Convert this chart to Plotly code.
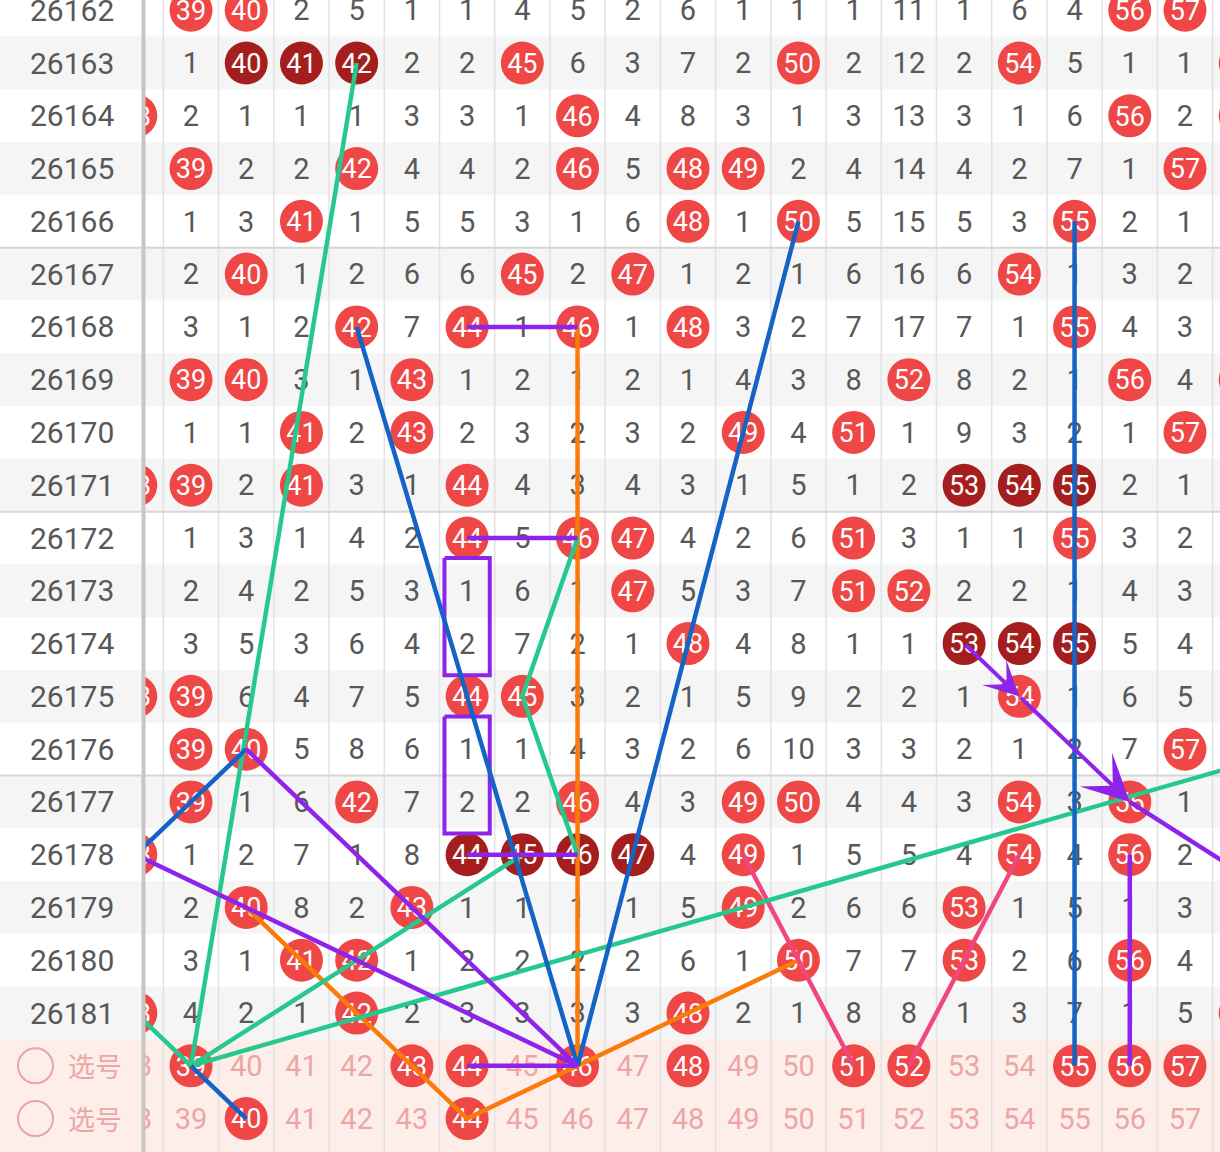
import plotly.graph_objects as go

# ---------------- data ----------------
periods = list(range(26162, 26182))
numbers = list(range(38, 59))          # columns 38..58 (38 and 58 are cut by the view)
# omission counts per period for numbers 38..58; 0 = number drawn (ball)
omission = [
    [3, 0, 0, 2, 5, 1, 1, 4, 5, 2, 6, 1, 1, 1, 11, 1, 6, 4, 0, 0, 5],
    [4, 1, 0, 0, 0, 2, 2, 0, 6, 3, 7, 2, 0, 2, 12, 2, 0, 5, 1, 1, 0],
    [0, 2, 1, 1, 1, 3, 3, 1, 0, 4, 8, 3, 1, 3, 13, 3, 1, 6, 0, 2, 0],
    [1, 0, 2, 2, 0, 4, 4, 2, 0, 5, 0, 0, 2, 4, 14, 4, 2, 7, 1, 0, 1],
    [2, 1, 3, 0, 1, 5, 5, 3, 1, 6, 0, 1, 0, 5, 15, 5, 3, 0, 2, 1, 2],
    [3, 2, 0, 1, 2, 6, 6, 0, 2, 0, 1, 2, 1, 6, 16, 6, 0, 1, 3, 2, 3],
    [4, 3, 1, 2, 0, 7, 0, 1, 0, 1, 0, 3, 2, 7, 17, 7, 1, 0, 4, 3, 4],
    [5, 0, 0, 3, 1, 0, 1, 2, 1, 2, 1, 4, 3, 8, 0, 8, 2, 1, 0, 4, 0],
    [6, 1, 1, 0, 2, 0, 2, 3, 2, 3, 2, 0, 4, 0, 1, 9, 3, 2, 1, 0, 1],
    [0, 0, 2, 0, 3, 1, 0, 4, 3, 4, 3, 1, 5, 1, 2, 0, 0, 0, 2, 1, 2],
    [1, 1, 3, 1, 4, 2, 0, 5, 0, 0, 4, 2, 6, 0, 3, 1, 1, 0, 3, 2, 3],
    [2, 2, 4, 2, 5, 3, 1, 6, 1, 0, 5, 3, 7, 0, 0, 2, 2, 1, 4, 3, 4],
    [3, 3, 5, 3, 6, 4, 2, 7, 2, 1, 0, 4, 8, 1, 1, 0, 0, 0, 5, 4, 5],
    [0, 0, 6, 4, 7, 5, 0, 0, 3, 2, 1, 5, 9, 2, 2, 1, 0, 1, 6, 5, 6],
    [1, 0, 0, 5, 8, 6, 1, 1, 4, 3, 2, 6, 10, 3, 3, 2, 1, 2, 7, 0, 7],
    [2, 0, 1, 6, 0, 7, 2, 2, 0, 4, 3, 0, 0, 4, 4, 3, 0, 3, 0, 1, 8],
    [0, 1, 2, 7, 1, 8, 0, 0, 0, 0, 4, 0, 1, 5, 5, 4, 0, 4, 0, 2, 9],
    [1, 2, 0, 8, 2, 0, 1, 1, 1, 1, 5, 0, 2, 6, 6, 0, 1, 5, 1, 3, 10],
    [2, 3, 1, 0, 0, 1, 2, 2, 2, 2, 6, 1, 0, 7, 7, 0, 2, 6, 0, 4, 11],
    [0, 4, 2, 1, 0, 2, 3, 3, 3, 3, 0, 2, 1, 8, 8, 1, 3, 7, 1, 5, 0],
]
select_rows = ["S1", "S2"]
select_label = "选号"
select_picks = [
    [39, 43, 44, 46, 48, 51, 52, 55, 56, 57],
    [40, 44],
]

# hand-drawn analysis lines: (number, period or selection row)
green_lines = [
    [(42, 26163), (39, "S1")],
    [(46, 26172), (45, 26175), (46, 26178)],
    [(45, 26178), (39, "S1")],
    [(38, 26181), (39, "S1")],
    [(39, "S1"), (59, 26176)],
]
blue_lines = [
    [(42, 26168), (46, "S1")],
    [(50, 26166), (46, "S1")],
    [(55, 26166), (55, "S1")],
    [(40, 26176), (38, 26178)],
    [(39, "S1"), (40, "S2")],
]
orange_lines = [
    [(46, 26168), (46, "S1")],
    [(40, 26179), (44, "S2"), (46, "S1"), (50, 26180)],
]
purple_lines = [
    [(44, 26168), (46, 26168)],
    [(44, 26172), (46, 26172)],
    [(44, 26178), (46, 26178)],
    [(44, "S1"), (46, "S1")],
    [(40, 26176), (46, "S1")],
    [(38, 26178), (46, "S1")],
    [(56, 26178), (56, "S1")],
    [(56, 26177), (59, 26179)],
]
purple_arrows = [
    [(53, 26174), (54, 26175)],
    [(54, 26175), (56, 26177)],
]
pink_lines = [
    [(49, 26178), (51, "S1")],
    [(52, "S1"), (54, 26178)],
]
purple_boxes = [(44, 26173, 26174), (44, 26176, 26177)]

# ---------------- style ----------------
W, H = 1220, 1152
COL0_PX, COL_W = 191.0, 55.222      # pixel centre of number 39, column width
ROW1_PX, ROW_H = 63.0, 52.78        # pixel centre of row index 1, row height
X_MIN = 39 - COL0_PX / COL_W
X_MAX = X_MIN + W / COL_W
Y_TOP = 1 - ROW1_PX / ROW_H
Y_BOT = Y_TOP + H / ROW_H
LABEL_W = 141.5
TEXT_DY = 3.0 / ROW_H                # nudge scatter text down to the cell centre

RED, DARK = "#ef4646", "#a51e1e"
TXT = "#585858"
PINK_BG, PINK_TXT = "#fdeeea", "#eda6a6"
GRAY_BG = "#f5f5f5"
FONT = "Roboto"


def row_of(key):
    if key in select_rows:
        return len(periods) + select_rows.index(key)
    return periods.index(key)


fig = go.Figure()

# ---- cells ----
ball_x, ball_y, ball_t = [], [], []
dark_x, dark_y, dark_t = [], [], []
num_x, num_y, num_t = [], [], []
for r, row in enumerate(omission):
    drawn = {numbers[i] for i, v in enumerate(row) if v == 0}
    for i, v in enumerate(row):
        n = numbers[i]
        if v == 0:
            lo = n
            while lo - 1 in drawn:
                lo -= 1
            hi = n
            while hi + 1 in drawn:
                hi += 1
            if hi - lo + 1 >= 3:
                dark_x.append(n); dark_y.append(r); dark_t.append(str(n))
            else:
                ball_x.append(n); ball_y.append(r); ball_t.append(str(n))
        else:
            num_x.append(n); num_y.append(r); num_t.append(str(v))

sel_x, sel_y, sel_t = [], [], []
for k, picks in enumerate(select_picks):
    r = len(periods) + k
    for n in numbers:
        if n in picks:
            ball_x.append(n); ball_y.append(r); ball_t.append(str(n))
        else:
            sel_x.append(n); sel_y.append(r); sel_t.append(str(n))


def shifted(ys):
    return [y + TEXT_DY for y in ys]


fig.add_trace(go.Scatter(x=num_x, y=shifted(num_y), text=num_t, mode="text",
                         textfont=dict(family=FONT, size=29, color=TXT),
                         hoverinfo="skip"))
fig.add_trace(go.Scatter(x=sel_x, y=shifted(sel_y), text=sel_t, mode="text",
                         textfont=dict(family=FONT, size=29, color=PINK_TXT),
                         hoverinfo="skip"))
for xs, ys, ts, col in [(ball_x, ball_y, ball_t, RED), (dark_x, dark_y, dark_t, DARK)]:
    fig.add_trace(go.Scatter(x=xs, y=ys, mode="markers",
                             marker=dict(size=43, color=col, line=dict(width=0)),
                             hoverinfo="skip"))
    fig.add_trace(go.Scatter(x=xs, y=shifted(ys), text=ts, mode="text",
                             textfont=dict(family=FONT, size=27, color="white"),
                             textposition="middle center", hoverinfo="skip"))

# ---- boxes ----
bx, by = [], []
for n, p0, p1 in purple_boxes:
    x0, x1 = n - 0.41, n + 0.41
    y0, y1 = row_of(p0) - 0.62, row_of(p1) + 0.6
    bx += [x0, x1, x1, x0, x0, None]
    by += [y0, y0, y1, y1, y0, None]
fig.add_trace(go.Scatter(x=bx, y=by, mode="lines",
                         line=dict(color="#8e24ea", width=4), hoverinfo="skip"))


def add_lines(paths, color, width=4.5):
    xs, ys = [], []
    for path in paths:
        for n, key in path:
            xs.append(n); ys.append(row_of(key))
        xs.append(None); ys.append(None)
    fig.add_trace(go.Scatter(x=xs, y=ys, mode="lines",
                             line=dict(color=color, width=width),
                             hoverinfo="skip"))


add_lines(orange_lines, "#f97c0b")
add_lines(pink_lines, "#f0477f")
add_lines(green_lines, "#25c990")
add_lines(blue_lines, "#1464c6")
add_lines(purple_lines, "#8e24ea")

annotations = []
for (start, end), size in zip(purple_arrows, [1.45, 1.95]):
    (n0, k0), (n1, k1) = start, end
    annotations.append(dict(x=n1, y=row_of(k1), ax=n0, ay=row_of(k0),
                            xref="x", yref="y", axref="x", ayref="y",
                            text="", showarrow=True, arrowhead=3,
                            arrowsize=size, arrowwidth=4, arrowcolor="#8e24ea",
                            standoff=0))

# ---- shapes ----
shapes = []
n_rows = len(periods)
for r in range(n_rows):
    if r % 2 == 1:
        shapes.append(dict(type="rect", xref="paper", yref="y", x0=0, x1=1,
                           y0=r - 0.5, y1=r + 0.5, fillcolor=GRAY_BG,
                           line=dict(width=0), layer="below"))
shapes.append(dict(type="rect", xref="paper", yref="y", x0=0, x1=1,
                   y0=n_rows - 0.5, y1=Y_BOT + 1, fillcolor=PINK_BG,
                   line=dict(width=0), layer="below"))
for n in numbers:
    shapes.append(dict(type="line", xref="x", yref="paper", x0=n + 0.5, x1=n + 0.5,
                       y0=0, y1=1, line=dict(color="#e2e2e2", width=1.5),
                       layer="below"))
for b in range(4, n_rows - 1, 5):
    shapes.append(dict(type="line", xref="paper", yref="y", x0=0, x1=1,
                       y0=b + 0.5, y1=b + 0.5, line=dict(color="#d6d6d6", width=2),
                       layer="below"))

# label column overlay
lw = LABEL_W / W
for r in range(n_rows):
    shapes.append(dict(type="rect", xref="paper", yref="y", x0=0, x1=lw + 0.001,
                       y0=r - 0.5, y1=r + 0.5,
                       fillcolor=GRAY_BG if r % 2 == 1 else "white",
                       line=dict(width=0), layer="above"))
shapes.append(dict(type="rect", xref="paper", yref="y", x0=0, x1=lw + 0.001,
                   y0=n_rows - 0.5, y1=Y_BOT + 1, fillcolor=PINK_BG,
                   line=dict(width=0), layer="above"))
for b in range(4, n_rows - 1, 5):
    shapes.append(dict(type="line", xref="paper", yref="y", x0=0, x1=lw,
                       y0=b + 0.5, y1=b + 0.5, line=dict(color="#d6d6d6", width=2),
                       layer="above"))
shapes.append(dict(type="line", xref="paper", yref="paper", x0=143.5 / W, x1=143.5 / W,
                   y0=0, y1=1, line=dict(color="#c6c6c6", width=4), layer="above"))

for k in range(len(select_rows)):
    r = n_rows + k
    rad = 17.5 / ROW_H
    shapes.append(dict(type="circle", xref="paper", yref="y",
                       x0=(35.5 - 17.5) / W, x1=(35.5 + 17.5) / W,
                       y0=r - rad, y1=r + rad,
                       line=dict(color="#eba3a3", width=2), layer="above"))
    annotations.append(dict(x=95 / W, y=r, xref="paper", yref="y", text=select_label,
                            showarrow=False, xanchor="center",
                            font=dict(family="Noto Sans CJK SC", size=27, color=PINK_TXT)))

for r, p in enumerate(periods):
    annotations.append(dict(x=72 / W, y=r, xref="paper", yref="y", text=str(p),
                            showarrow=False, xanchor="center",
                            font=dict(family=FONT, size=30, color=TXT)))

fig.update_layout(
    width=W, height=H, margin=dict(l=0, r=0, t=0, b=0),
    paper_bgcolor="white", plot_bgcolor="white", showlegend=False,
    xaxis=dict(range=[X_MIN, X_MAX], visible=False, fixedrange=True),
    yaxis=dict(range=[Y_BOT, Y_TOP], visible=False, fixedrange=True),
    shapes=shapes, annotations=annotations,
)

fig.write_html("out.html")
